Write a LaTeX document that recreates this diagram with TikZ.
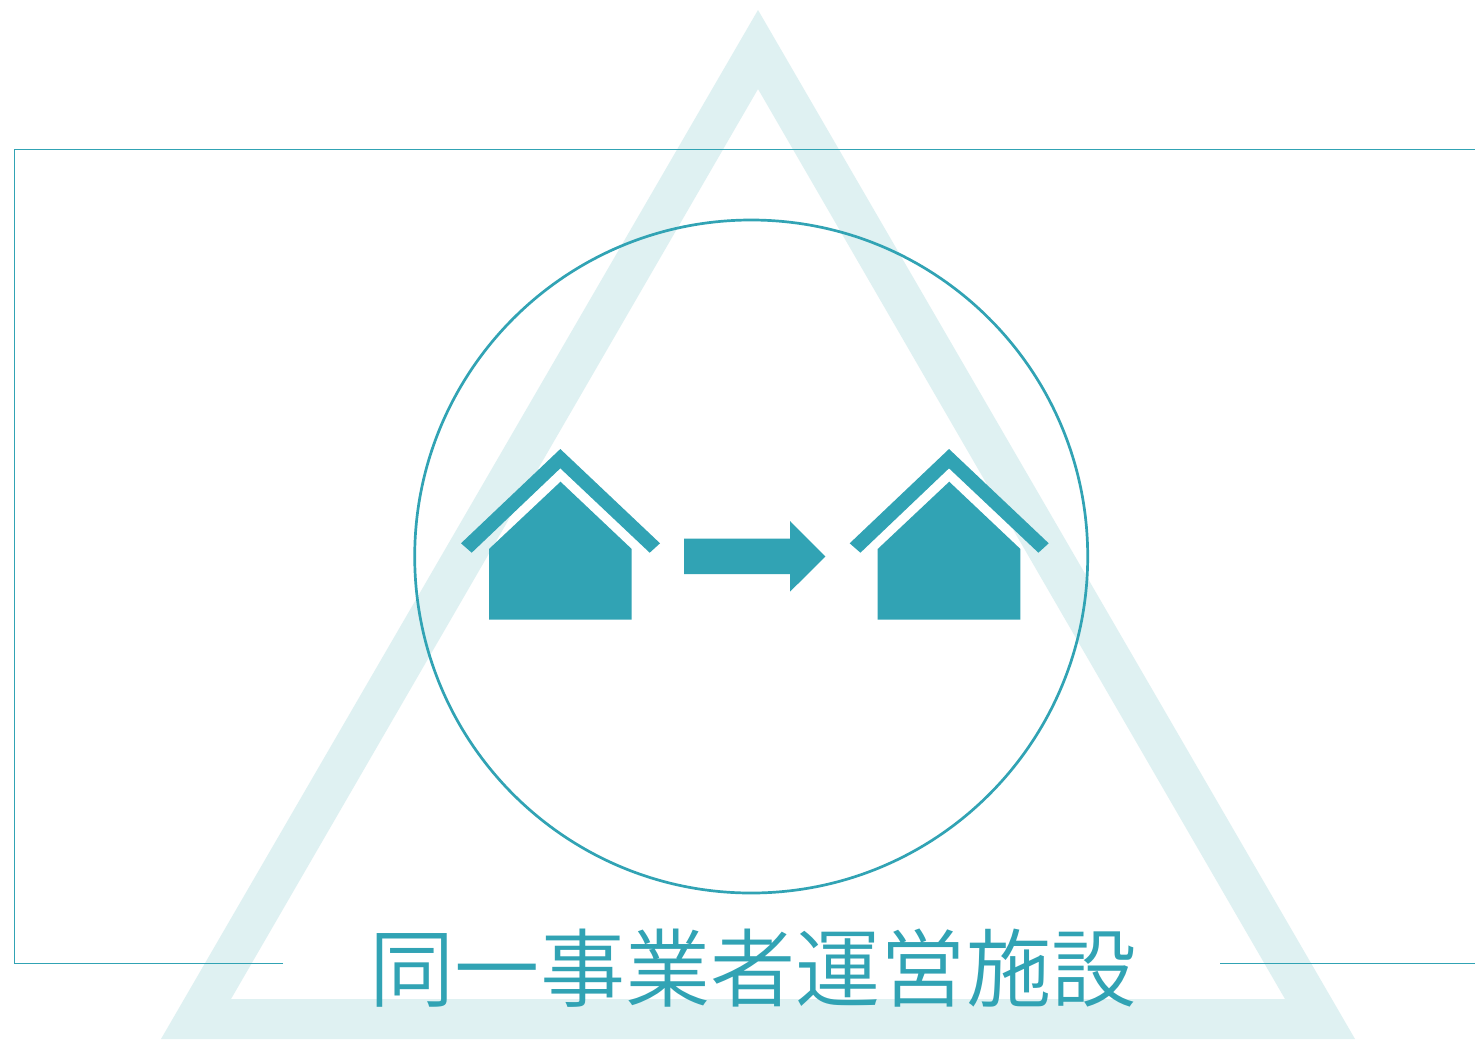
\documentclass[tikz,border=0pt]{standalone}
\usepackage{fontspec}
\newfontfamily\cjk{Noto Sans CJK JP DemiLight}
\definecolor{teal}{HTML}{31A3B4}
\definecolor{pale}{HTML}{DFF1F2}
\tikzset{
  px/.style={x=0.5pt,y=-0.5pt},
  thinline/.style={draw=teal,line width=0.6pt},
  ringline/.style={draw=teal,line width=1.35pt},
  solidteal/.style={fill=teal,draw=none},
  palefill/.style={fill=pale,draw=none,even odd rule},
  caption/.style={inner sep=0pt,text=teal,font=\fontsize{42.6}{43}\selectfont\cjk}
}
\begin{document}
\begin{tikzpicture}[px]
\useasboundingbox (0,0) rectangle (1475,1039);
\fill[white] (0,0) rectangle (1475,1039);
% pale triangle
\path[palefill] (758,10) -- (1355,1039) -- (161,1039) -- cycle
  (758,89) -- (231,999) -- (1285,999) -- cycle;
% open frame
\draw[thinline] (283,963.5) -- (14.5,963.5) -- (14.5,149.5) -- (1475,149.5);
\draw[thinline] (1220,963.5) -- (1475,963.5);
% ring
\draw[ringline] (751.2,556.5) circle [radius=336.5];
% houses
\foreach \dx in {0,388.7}{
  \begin{scope}[shift={(\dx,0)}]
    \fill[solidteal] (560.3,449) -- (660,543.3) -- (649.7,552.7) -- (560.3,468.3)
      -- (471.7,552.7) -- (461,543.3) -- cycle;
    \fill[solidteal] (560.5,481.7) -- (631.7,549) -- (631.7,619.7) -- (489,619.7) -- (489,549) -- cycle;
  \end{scope}
}
% arrow
\fill[solidteal] (684,538.7) -- (790,538.7) -- (790,521) -- (825.3,556.5) -- (790,591.7) -- (790,574) -- (684,574) -- cycle;
% caption
\node[caption] (title) at (753,968) {同一事業者運営施設};
\end{tikzpicture}
\end{document}
